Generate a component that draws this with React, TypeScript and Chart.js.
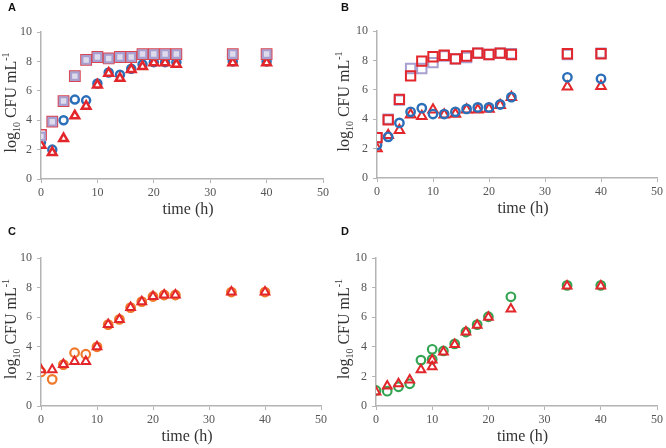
import React, { useEffect, useRef } from "react";
import { Chart, registerables } from "chart.js";
Chart.register(...registerables);

// ---- data ----
const timesFull = [0, 2, 4, 6, 8, 10, 12, 14, 16, 18, 20, 22, 24, 34, 40];
const timesD = [0, 2, 4, 6, 8, 10, 10, 12, 14, 16, 18, 20, 24, 34, 40];

const aLavenderSquares = [2.9, 3.9, 5.3, 7.0, 8.1, 8.3, 8.2, 8.3, 8.3, 8.5, 8.5, 8.5, 8.5, 8.5, 8.5];
const aRedSquares = [3.0, 3.9, 5.3, 7.0, 8.1, 8.3, 8.2, 8.3, 8.3, 8.5, 8.5, 8.5, 8.5, 8.5, 8.5];
const aBlueCircles = [2.5, 2.0, 4.0, 5.4, 5.35, 6.5, 7.25, 7.1, 7.5, 7.8, 7.95, 7.95, 7.95, 8.0, 8.0];
const aRedTriangles = [2.3, 1.8, 2.75, 4.3, 4.95, 6.4, 7.2, 6.85, 7.45, 7.65, 7.9, 7.9, 7.8, 7.9, 7.9];

const bRedSquares = [2.75, 3.95, 5.35, 6.95, 7.95, 8.25, 8.35, 8.1, 8.3, 8.5, 8.4, 8.5, 8.4, 8.45, 8.45];
const bLavenderSquares = [2.75, 4.0, 5.3, 7.45, 7.45, 7.85, 8.3, 8.1, 8.2, 8.5, 8.4, 8.5, 8.45, 8.4, 8.5];
const bBlueCircles = [2.25, 2.8, 3.75, 4.5, 4.75, 4.35, 4.35, 4.5, 4.7, 4.8, 4.8, 5.0, 5.5, 6.85, 6.75];
const bRedTriangles = [2.0, 2.9, 3.25, 4.3, 4.2, 4.65, 4.3, 4.35, 4.65, 4.65, 4.7, 4.95, 5.5, 6.2, 6.25];

const cOrangeCircles = [2.3, 1.8, 2.8, 3.6, 3.5, 4.0, 5.5, 5.85, 6.65, 7.05, 7.4, 7.5, 7.5, 7.7, 7.7];
const cRedTriangles = [2.45, 2.45, 2.8, 3.0, 3.0, 4.0, 5.5, 5.85, 6.65, 7.05, 7.4, 7.5, 7.5, 7.7, 7.7];

const dGreenCircles = [1.05, 1.0, 1.3, 1.5, 3.1, 3.83, 3.15, 3.72, 4.2, 5.0, 5.5, 6.03, 7.38, 8.15, 8.15];
const dRedTriangles = [0.95, 1.35, 1.5, 1.75, 2.45, 2.65, 3.1, 3.65, 4.15, 5.0, 5.45, 6.0, 6.55, 8.1, 8.1];

const xTicks = [0, 10, 20, 30, 40, 50];
const yTicks = [0, 2, 4, 6, 8, 10];

const BLUE = "#2a6fb8";
const RED = "#e3262b";
const LAV = "#a79fcf";
const ORANGE = "#f0782a";
const GREEN = "#33a552";

type Series = {
  times: number[];
  values: number[];
  style: string;
  color: string;
  fill: string;
  radius: number;
  border: number;
  order: number;
};

type Panel = {
  letter: string;
  left: number;
  top: number;
  areaLeft: number;
  areaRight: number;
  areaTop: number;
  areaBottom: number;
  series: Series[];
};

const W = 333;
const H = 224;

const panels: Panel[] = [
  {
    letter: "A", left: 0, top: 0, areaLeft: 41, areaRight: 323, areaTop: 32, areaBottom: 179,
    series: [
      { times: timesFull, values: aBlueCircles, style: "circle", color: BLUE, fill: "#ffffff", radius: 4, border: 2.5, order: 4 },
      { times: timesFull, values: aRedTriangles, style: "triangle", color: RED, fill: "#ffffff", radius: 5, border: 2.5, order: 3 },
      { times: timesFull, values: aRedSquares, style: "rect", color: "#d8444f", fill: "#ffffff", radius: 7.2, border: 1.6, order: 2 },
      { times: timesFull, values: aLavenderSquares, style: "rect", color: LAV, fill: "#dedbed", radius: 5.4, border: 2.2, order: 1 },
    ],
  },
  {
    letter: "B", left: 333, top: 0, areaLeft: 44, areaRight: 325, areaTop: 31, areaBottom: 178,
    series: [
      { times: timesFull, values: bRedTriangles, style: "triangle", color: RED, fill: "#ffffff", radius: 5.5, border: 2, order: 4 },
      { times: timesFull, values: bBlueCircles, style: "circle", color: BLUE, fill: "rgba(255,255,255,0)", radius: 4.2, border: 2.4, order: 3 },
      { times: timesFull, values: bLavenderSquares, style: "rect", color: LAV, fill: "#ffffff", radius: 6.6, border: 2, order: 2 },
      { times: timesFull, values: bRedSquares, style: "rect", color: RED, fill: "rgba(255,255,255,0)", radius: 6.6, border: 2, order: 1 },
    ],
  },
  {
    letter: "C", left: 0, top: 224, areaLeft: 41, areaRight: 321, areaTop: 34, areaBottom: 182,
    series: [
      { times: timesFull, values: cOrangeCircles, style: "circle", color: ORANGE, fill: "#ffffff", radius: 4.3, border: 2.2, order: 2 },
      { times: timesFull, values: cRedTriangles, style: "triangle", color: RED, fill: "rgba(255,255,255,0)", radius: 5, border: 2, order: 1 },
    ],
  },
  {
    letter: "D", left: 333, top: 224, areaLeft: 43, areaRight: 325, areaTop: 34, areaBottom: 182,
    series: [
      { times: timesD, values: dGreenCircles, style: "circle", color: GREEN, fill: "#ffffff", radius: 4.3, border: 2.2, order: 2 },
      { times: timesD, values: dRedTriangles, style: "triangle", color: RED, fill: "rgba(255,255,255,0)", radius: 5, border: 2, order: 1 },
    ],
  },
];

const SERIF = '"Liberation Serif", "Times New Roman", serif';

function makeDecorPlugin(letter: string) {
  return {
    id: "decor" + letter,
    afterDraw(chart: any) {
      const { ctx, chartArea } = chart;
      ctx.save();
      // panel letter
      ctx.fillStyle = "#111111";
      ctx.font = 'bold 11px "Liberation Sans", Arial, sans-serif';
      ctx.textAlign = "left";
      ctx.textBaseline = "top";
      ctx.fillText(letter, 8, 2);

      // x title
      ctx.fillStyle = "#333333";
      ctx.font = "16px " + SERIF;
      ctx.textAlign = "center";
      ctx.textBaseline = "middle";
      ctx.fillText("time (h)", (chartArea.left + chartArea.right) / 2 + 6, chartArea.bottom + 31);

      // y title with sub/superscripts
      const parts = [
        { t: "log", size: 16, dy: 0 },
        { t: "10", size: 10, dy: 4 },
        { t: " CFU mL", size: 16, dy: 0 },
        { t: "-1", size: 10, dy: -7 },
      ];
      let total = 0;
      const widths: number[] = [];
      for (const p of parts) {
        ctx.font = p.size + "px " + SERIF;
        const w = ctx.measureText(p.t).width;
        widths.push(w);
        total += w;
      }
      ctx.translate(16, (chartArea.top + chartArea.bottom) / 2 - 3);
      ctx.rotate(-Math.PI / 2);
      ctx.textAlign = "left";
      ctx.textBaseline = "alphabetic";
      let x = -total / 2;
      parts.forEach((p, i) => {
        ctx.font = p.size + "px " + SERIF;
        ctx.fillText(p.t, x, p.dy);
        x += widths[i];
      });
      ctx.restore();
    },
  };
}

function PanelChart({ panel }: { panel: Panel }) {
  const ref = useRef<HTMLCanvasElement | null>(null);
  useEffect(() => {
    if (!ref.current) return;
    const datasets = panel.series.map((s) => ({
      data: s.times.map((t, i) => ({ x: t, y: s.values[i] })),
      showLine: false,
      pointStyle: s.style,
      pointRadius: s.radius,
      pointBorderWidth: s.border,
      pointBorderColor: s.color,
      pointBackgroundColor: s.fill,
      order: s.order,
    }));
    const axisColor = "#b4b4b4";
    const chart = new Chart(ref.current, {
      type: "scatter",
      data: { datasets } as any,
      options: {
        responsive: false,
        animation: false,
        events: [],
        layout: {
          padding: { left: 0, right: W - panel.areaRight, top: panel.areaTop, bottom: 0 },
        },
        plugins: { legend: { display: false }, tooltip: { enabled: false } },
        scales: {
          x: {
            type: "linear",
            min: 0,
            max: 50,
            afterBuildTicks: (scale: any) => {
              scale.ticks = xTicks.map((v) => ({ value: v }));
            },
            afterFit: (scale: any) => {
              scale.height = H - panel.areaBottom;
            },
            grid: { display: true, drawOnChartArea: false, drawTicks: true, tickLength: 4, color: axisColor, lineWidth: 1 },
            border: { display: true, color: axisColor, width: 1.5 },
            ticks: { color: "#555555", font: { family: SERIF, size: 12 }, padding: 3, maxRotation: 0 },
          },
          y: {
            type: "linear",
            min: 0,
            max: 10,
            afterBuildTicks: (scale: any) => {
              scale.ticks = yTicks.map((v) => ({ value: v }));
            },
            afterFit: (scale: any) => {
              scale.width = panel.areaLeft;
            },
            grid: { display: true, drawOnChartArea: false, drawTicks: true, tickLength: 4, color: axisColor, lineWidth: 1 },
            border: { display: true, color: axisColor, width: 1.5 },
            ticks: { color: "#555555", font: { family: SERIF, size: 12 }, padding: 5 },
          },
        },
      } as any,
      plugins: [makeDecorPlugin(panel.letter)],
    });
    return () => chart.destroy();
  }, [panel]);
  return (
    <canvas
      ref={ref}
      width={W}
      height={H}
      style={{ position: "absolute", left: panel.left, top: panel.top, width: W, height: H }}
    />
  );
}

export default function App() {
  return (
    <div style={{ position: "absolute", left: 0, top: 0, width: 666, height: 448, background: "#ffffff" }}>
      {panels.map((p) => (
        <PanelChart key={p.letter} panel={p} />
      ))}
    </div>
  );
}
